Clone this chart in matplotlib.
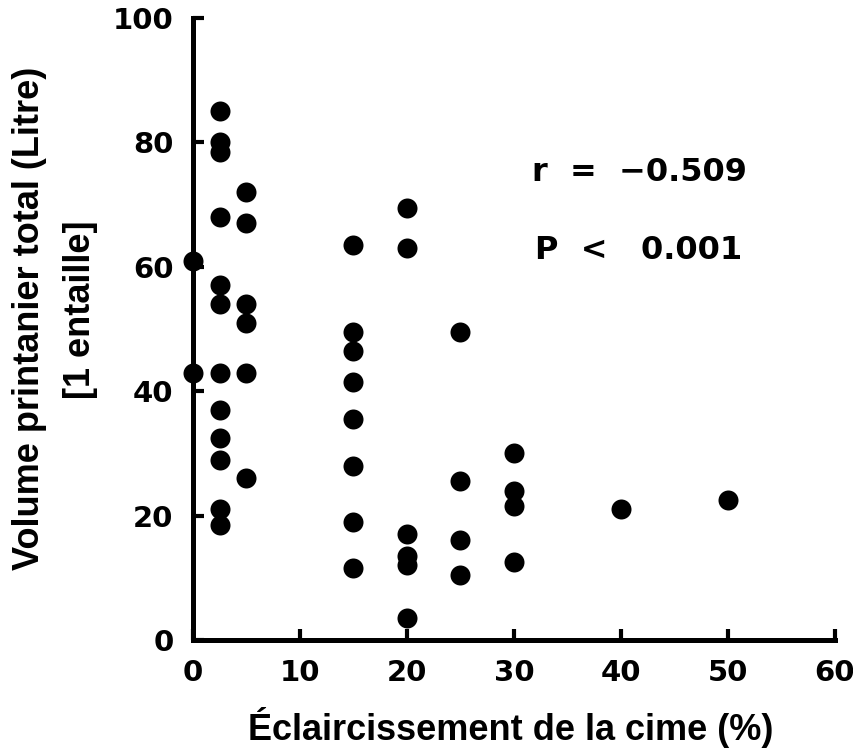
import matplotlib
matplotlib.use("Agg")
import matplotlib.pyplot as plt

# Data
eclaircissement = [0, 0,
                   2.5, 2.5, 2.5, 2.5, 2.5, 2.5, 2.5, 2.5, 2.5, 2.5, 2.5, 2.5,
                   5, 5, 5, 5, 5, 5,
                   15, 15, 15, 15, 15, 15, 15, 15,
                   20, 20, 20, 20, 20, 20,
                   25, 25, 25, 25,
                   30, 30, 30, 30,
                   40, 50]
volume = [61, 43,
          85, 80, 78.5, 68, 57, 54, 43, 37, 32.5, 29, 21, 18.5,
          72, 67, 54, 51, 43, 26,
          63.5, 49.5, 46.5, 41.5, 35.5, 28, 19, 11.5,
          69.5, 63, 17, 13.5, 12, 3.5,
          49.5, 25.5, 16, 10.5,
          30, 24, 21.5, 12.5,
          21, 22.5]
x_ticks = [0, 10, 20, 30, 40, 50, 60]
y_ticks = [0, 20, 40, 60, 80, 100]
xlabel = "Éclaircissement de la cime (%)"
ylabel_1 = "Volume printanier total (Litre)"
ylabel_2 = "[1 entaille]"
stat_r = "r  =  \u22120.509"
stat_p = "P  <   0.001"

W, H = 854, 752
fig = plt.figure(figsize=(W / 100, H / 100), dpi=100)
ax = fig.add_axes([193 / W, 1 - 640 / H, (835 - 193) / W, (640 - 18) / H])
ax.set_xlim(0, 60)
ax.set_ylim(0, 100)

ax.plot(eclaircissement, volume, "o", color="black", markersize=14.4,
        markeredgewidth=0, clip_on=False, zorder=3)

for s in ["top", "right"]:
    ax.spines[s].set_visible(False)
for s in ["left", "bottom"]:
    ax.spines[s].set_linewidth(3.6)
    ax.spines[s].set_capstyle("projecting")

ax.set_xticks(x_ticks)
ax.set_yticks(y_ticks)
ax.tick_params(direction="in", length=8, width=3, pad=14, labelsize=21)
for lab in ax.get_xticklabels() + ax.get_yticklabels():
    lab.set_fontweight("bold")
    lab.set_family("DejaVu Sans")

fig.text(511 / W, 1 - 728 / H, xlabel, ha="center", va="center",
         fontsize=26, fontweight="bold", family="Liberation Sans")
fig.text(30 / W, 1 - 318 / H, ylabel_1, ha="center", va="center", rotation=90,
         fontsize=26, fontweight="bold", family="Liberation Sans")
fig.text(80 / W, 1 - 310 / H, ylabel_2, ha="center", va="center", rotation=90,
         fontsize=26, fontweight="bold", family="Liberation Sans")

ax.text(31.7, 75.2, stat_r, va="center", ha="left", fontsize=23,
        fontweight="bold", family="DejaVu Sans")
ax.text(32.0, 62.7, stat_p, va="center", ha="left", fontsize=23,
        fontweight="bold", family="DejaVu Sans")

fig.savefig("out.png", dpi=100)
